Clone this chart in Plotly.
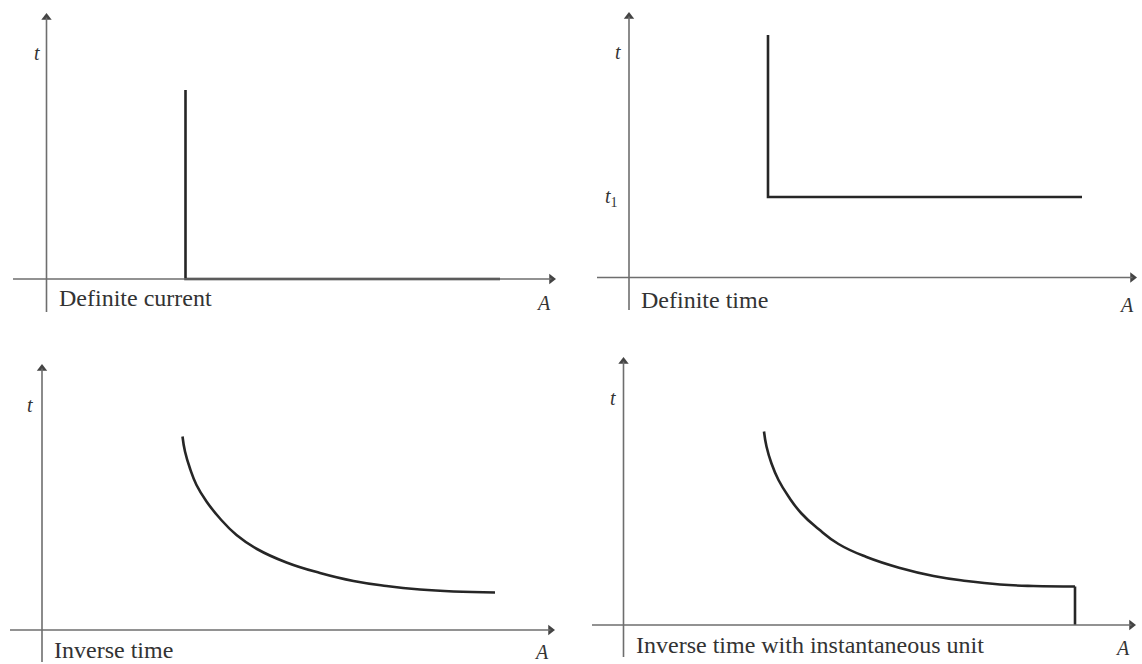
import plotly.graph_objects as go

# ---------------- data (arbitrary units: A = current, t = time) ----------------
dc_A = [2.78, 2.78, 9.07]          # definite current
dc_t = [3.78, 0.0, 0.0]

dt_A = [2.78, 2.78, 9.06]          # definite time
dt_t = [4.85, 1.61, 1.61]

inv_A = [2.81, 2.86, 2.96, 3.09, 3.29, 3.56, 3.89, 4.30, 4.89, 5.56, 6.23, 6.89, 7.56, 8.23, 9.06]
inv_t = [3.87, 3.57, 3.23, 2.90, 2.57, 2.23, 1.90, 1.62, 1.35, 1.14, 0.98, 0.88, 0.81, 0.77, 0.75]

invi_A = [2.81, 2.86, 2.96, 3.10, 3.30, 3.56, 3.90, 4.30, 4.86, 5.53, 6.20, 6.86, 7.53, 8.20, 9.03]
invi_t = [3.87, 3.57, 3.23, 2.90, 2.57, 2.23, 1.92, 1.62, 1.36, 1.14, 0.98, 0.88, 0.81, 0.78, 0.77]
inst_A = [9.03, 9.03]
inst_t = [0.77, 0.0]

titles = ["Definite current", "Definite time", "Inverse time",
          "Inverse time with instantaneous unit"]

# ---------------- layout helpers ----------------
W, H = 1142, 664
S = 50.0  # px per unit

panels = [
    dict(o=(46.5, 279), box=(0, 0, 571, 332), ax=(13, 556, 312, 13)),
    dict(o=(629, 277.5), box=(571, 0, 1142, 332), ax=(597, 1137, 310, 12)),
    dict(o=(42, 630), box=(0, 332, 571, 664), ax=(10, 555, 662, 364)),
    dict(o=(623.5, 625), box=(571, 332, 1142, 664), ax=(592, 1136, 657, 357)),
]

fig = go.Figure()
LINE = dict(color="#262626", width=2.6)
AXC = "#6e6e6e"
FONT = "Liberation Serif"

series = [
    [(dc_A, dc_t, "linear")],
    [(dt_A, dt_t, "linear")],
    [(inv_A, inv_t, "spline")],
    [(invi_A, invi_t, "spline"), (inst_A, inst_t, "linear")],
]

label_pos = [(57, 298), (639, 300), (52, 650), (634, 645)]
t_pos = [(37, 53), (618, 52), (30, 405), (613, 398)]
a_pos = [(543, 303), (1126, 305), (541, 652), (1122, 648)]

HEAD = 4.5  # px from marker centre to tip

for i, p in enumerate(panels):
    ox, oy = p["o"]
    l, t, r, b = p["box"]
    n = "" if i == 0 else str(i + 1)
    xa, ya = "xaxis" + n, "yaxis" + n
    xr, yr = "x" + n, "y" + n
    fig.update_layout(**{
        xa: dict(domain=[l / W, r / W], range=[(l - ox) / S, (r - ox) / S],
                 visible=False, fixedrange=True, anchor=yr),
        ya: dict(domain=[1 - b / H, 1 - t / H], range=[(oy - b) / S, (oy - t) / S],
                 visible=False, fixedrange=True, anchor=xr),
    })
    xs0, xtip, yb, ytip = p["ax"]
    fig.add_shape(type="line", xref=xr, yref=yr, x0=(xs0 - ox) / S, x1=(xtip - ox - HEAD) / S,
                  y0=0, y1=0, line=dict(color=AXC, width=1.6))
    fig.add_shape(type="line", xref=xr, yref=yr, x0=0, x1=0, y0=(oy - yb) / S,
                  y1=(oy - ytip - HEAD) / S, line=dict(color=AXC, width=1.6))
    fig.add_trace(go.Scatter(x=[(xtip - ox - HEAD) / S], y=[0], mode="markers",
                             marker=dict(symbol="triangle-right", size=9, color="#444444"),
                             xaxis=xr, yaxis=yr, showlegend=False, hoverinfo="skip"))
    fig.add_trace(go.Scatter(x=[0], y=[(oy - ytip - HEAD) / S], mode="markers",
                             marker=dict(symbol="triangle-up", size=9, color="#444444"),
                             xaxis=xr, yaxis=yr, showlegend=False, hoverinfo="skip"))
    for xs, ys, shp in series[i]:
        line = dict(shape=shp, **LINE)
        if shp == "spline":
            line["smoothing"] = 1.3
        fig.add_trace(go.Scatter(x=xs, y=ys, mode="lines", line=line,
                                 xaxis=xr, yaxis=yr, showlegend=False, hoverinfo="skip"))
    lx, ly = label_pos[i]
    fig.add_annotation(x=(lx - ox) / S, y=(oy - ly) / S, xref=xr, yref=yr,
                       text=titles[i], showarrow=False, xanchor="left", yanchor="middle",
                       font=dict(family=FONT, size=24, color="#333333"))
    tx, ty = t_pos[i]
    fig.add_annotation(x=(tx - ox) / S, y=(oy - ty) / S, xref=xr, yref=yr,
                       text="<i>t</i>", showarrow=False, xanchor="center", yanchor="middle",
                       font=dict(family=FONT, size=20, color="#333333"))
    axx, axy = a_pos[i]
    fig.add_annotation(x=(axx - ox) / S, y=(oy - axy) / S, xref=xr, yref=yr,
                       text="<i>A</i>", showarrow=False, xanchor="center", yanchor="middle",
                       font=dict(family=FONT, size=20, color="#333333"))

ox, oy = panels[1]["o"]
fig.add_annotation(x=(611 - ox) / S, y=dt_t[1], xref="x2", yref="y2",
                   text="<i>t</i><sub>1</sub>", showarrow=False,
                   xanchor="center", yanchor="middle",
                   font=dict(family=FONT, size=20, color="#333333"))

fig.update_layout(width=W, height=H, margin=dict(l=0, r=0, t=0, b=0),
                  paper_bgcolor="white", plot_bgcolor="white", showlegend=False)

fig.write_html("out.html", config={"displayModeBar": False},
               post_script="document.body.style.margin='0';")
